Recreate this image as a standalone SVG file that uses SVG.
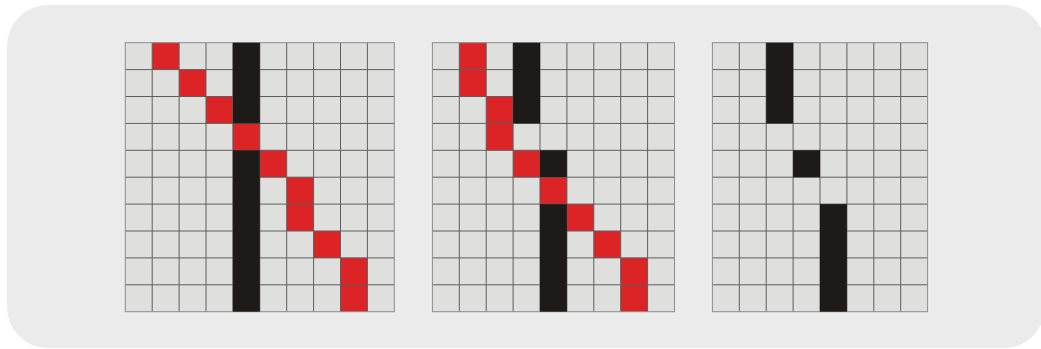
<svg xmlns="http://www.w3.org/2000/svg" width="1041" height="349" viewBox="0 0 1041 349">
<style>
.bg{fill:#ebebeb}
.cell{fill:#dfdfde}
.r{fill:#dc2326}
.k{fill:#1e1a17}
.ln{fill:none;stroke:#5e5e5e;stroke-width:1}
.bd{fill:none;stroke:#8c8c8c;stroke-width:1}
</style>
<rect width="1041" height="349" fill="#ffffff"/>
<rect class="bg" x="7" y="5" width="1038" height="343" rx="41"/>
<g id="grid1" transform="translate(125.3,42.7)">
<rect class="cell" width="269" height="269"/>
<rect class="r" x="26.9" y="0" width="26.9" height="26.9"/>
<rect class="r" x="53.8" y="26.9" width="26.9" height="26.9"/>
<rect class="r" x="80.7" y="53.8" width="26.9" height="26.9"/>
<rect class="r" x="107.6" y="80.7" width="26.9" height="26.9"/>
<rect class="r" x="134.5" y="107.6" width="26.9" height="26.9"/>
<rect class="r" x="161.4" y="134.5" width="26.9" height="53.8"/>
<rect class="r" x="188.3" y="188.3" width="26.9" height="26.9"/>
<rect class="r" x="215.2" y="215.2" width="26.9" height="53.8"/>
<path class="ln" d="M26.9 0V269M53.8 0V269M80.7 0V269M107.6 0V269M134.5 0V269M161.4 0V269M188.3 0V269M215.2 0V269M242.1 0V269M0 26.9H269M0 53.8H269M0 80.7H269M0 107.6H269M0 134.5H269M0 161.4H269M0 188.3H269M0 215.2H269M0 242.1H269"/>
<rect class="bd" width="269" height="269"/>
<rect class="k" x="107.6" y="0" width="26.9" height="80.7"/>
<rect class="k" x="107.6" y="107.6" width="26.9" height="161.4"/>
</g>
<g id="grid2" transform="translate(432.4,42.7)">
<rect class="cell" width="242.1" height="269"/>
<rect class="r" x="26.9" y="0" width="26.9" height="53.8"/>
<rect class="r" x="53.8" y="53.8" width="26.9" height="53.8"/>
<rect class="r" x="80.7" y="107.6" width="26.9" height="26.9"/>
<rect class="r" x="107.6" y="134.5" width="26.9" height="26.9"/>
<rect class="r" x="134.5" y="161.4" width="26.9" height="26.9"/>
<rect class="r" x="161.4" y="188.3" width="26.9" height="26.9"/>
<rect class="r" x="188.3" y="215.2" width="26.9" height="53.8"/>
<path class="ln" d="M26.9 0V269M53.8 0V269M80.7 0V269M107.6 0V269M134.5 0V269M161.4 0V269M188.3 0V269M215.2 0V269M0 26.9H242.1M0 53.8H242.1M0 80.7H242.1M0 107.6H242.1M0 134.5H242.1M0 161.4H242.1M0 188.3H242.1M0 215.2H242.1M0 242.1H242.1"/>
<rect class="bd" width="242.1" height="269"/>
<rect class="k" x="80.7" y="0" width="26.9" height="80.7"/>
<rect class="k" x="107.6" y="107.6" width="26.9" height="26.9"/>
<rect class="k" x="107.6" y="161.4" width="26.9" height="107.6"/>
</g>
<g id="grid3" transform="translate(712.4,42.7)">
<rect class="cell" width="215.2" height="269"/>
<path class="ln" d="M26.9 0V269M53.8 0V269M80.7 0V269M107.6 0V269M134.5 0V269M161.4 0V269M188.3 0V269M0 26.9H215.2M0 53.8H215.2M0 80.7H215.2M0 107.6H215.2M0 134.5H215.2M0 161.4H215.2M0 188.3H215.2M0 215.2H215.2M0 242.1H215.2"/>
<rect class="bd" width="215.2" height="269"/>
<rect class="k" x="53.8" y="0" width="26.9" height="80.7"/>
<rect class="k" x="80.7" y="107.6" width="26.9" height="26.9"/>
<rect class="k" x="107.6" y="161.4" width="26.9" height="107.6"/>
</g>
<g id="connectors"/>
</svg>
